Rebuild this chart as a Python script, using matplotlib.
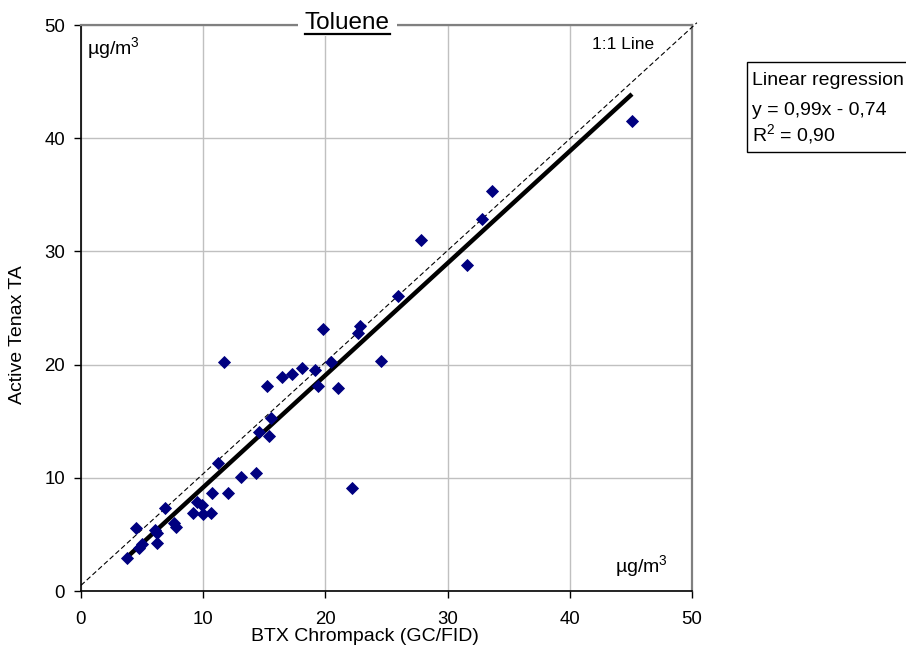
import numpy as np
import matplotlib
matplotlib.use("Agg")
import matplotlib.pyplot as plt
from matplotlib.lines import Line2D

plt.rcParams['font.family'] = ['Liberation Sans', 'DejaVu Sans']
plt.rcParams['mathtext.fontset'] = 'custom'
plt.rcParams['mathtext.rm'] = 'Liberation Sans'
plt.rcParams['mathtext.it'] = 'Liberation Sans'
plt.rcParams['mathtext.default'] = 'regular'

# Paired measurements (µg/m³)
btx_chrompack = [3.74, 4.50, 4.77, 5.02, 6.06, 6.24, 6.24, 6.90, 7.61, 7.77,
                 9.19, 9.47, 9.88, 9.96, 10.64, 10.70, 12.03, 11.24, 13.07, 14.30,
                 14.57, 15.36, 15.55, 11.73, 15.20, 16.42, 17.24, 18.06, 19.15, 19.42,
                 19.83, 20.43, 21.06, 22.64, 22.83, 24.55, 22.18, 25.97, 27.80, 31.56,
                 32.84, 33.66, 45.09]
active_tenax = [2.89, 5.54, 3.77, 4.15, 5.39, 5.10, 4.27, 7.31, 5.98, 5.63,
                6.92, 7.89, 7.60, 6.78, 6.92, 8.63, 8.68, 11.28, 10.10, 10.45,
                14.07, 13.72, 15.26, 20.26, 18.11, 18.93, 19.17, 19.73, 19.52, 18.11,
                23.12, 20.20, 17.91, 22.76, 23.41, 20.32, 9.07, 26.06, 31.01, 28.80,
                32.84, 35.34, 41.52]

reg_slope = 0.99
reg_intercept = -0.74
r_squared = 0.90

axis_ticks = [0, 10, 20, 30, 40, 50]

W, H = 906, 648
fig = plt.figure(figsize=(W / 100, H / 100), dpi=100)
fig.patch.set_facecolor('white')

def px(x, y):
    return x / W, 1 - y / H

left, right, top, bottom = 81, 692, 25, 591
ax = fig.add_axes([left / W, 1 - bottom / H, (right - left) / W, (bottom - top) / H])

ax.set_xlim(0, 50)
ax.set_ylim(0, 50)
ax.set_xticks(axis_ticks)
ax.set_yticks(axis_ticks)
ax.grid(True, color='#c0c0c0', lw=1.0)
ax.set_axisbelow(True)

for side in ('top', 'right'):
    ax.spines[side].set_color('#808080')
    ax.spines[side].set_linewidth(1.6)
for side in ('left', 'bottom'):
    ax.spines[side].set_color('black')
    ax.spines[side].set_linewidth(1.2)

ax.tick_params(axis='both', direction='out', length=5, width=1.0, labelsize=13.4, colors='black')
ax.tick_params(axis='x', pad=9.5)
ax.tick_params(axis='y', pad=6.5)

# 1:1 reference line
ax.plot([0, 50.4], [0.5, 50.2], color='black', lw=0.8, dashes=(4.5, 2.5), clip_on=False, zorder=3)

# Regression line across the data range
xr = np.array([min(btx_chrompack), max(btx_chrompack)])
ax.plot(xr, reg_slope * xr + reg_intercept, color='black', lw=3.2, solid_capstyle='butt', zorder=4)

# Measurements
ax.plot(btx_chrompack, active_tenax, linestyle='none', marker='D', ms=6.3,
        mfc='#000080', mec='#000080', mew=0.6, zorder=5)

# In-plot annotations
fig.text(*px(87, 54), r'µg/m$^3$', fontsize=14, ha='left', va='baseline')
fig.text(*px(592, 49), '1:1 Line', fontsize=12.5, ha='left', va='baseline')
fig.text(*px(615, 572), r'µg/m$^3$', fontsize=14, ha='left', va='baseline')

# Axis titles
fig.text(*px(365, 641), 'BTX Chrompack (GC/FID)', fontsize=14, ha='center', va='baseline')
fig.text(*px(18, 335), 'Active Tenax TA', fontsize=14, ha='center', va='center', rotation=90)

# Chart title sitting on the top frame, underlined
title = fig.text(*px(347, 29), 'Toluene', fontsize=17.5, ha='center', va='baseline', zorder=10)

# Regression summary box
fig.patches.append(plt.Rectangle(px(747, 152), (960 - 747) / W, (152 - 62) / H,
                                 transform=fig.transFigure, facecolor='white',
                                 edgecolor='black', lw=1.0, figure=fig))
fig.text(*px(752, 85), 'Linear regression', fontsize=14, ha='left', va='baseline')
sign = '-' if reg_intercept < 0 else '+'
fig.text(*px(752, 115), f'y = {reg_slope:.2f}x {sign} {abs(reg_intercept):.2f}'.replace('.', ','),
         fontsize=14, ha='left', va='baseline')
fig.text(*px(752, 141), f'R$^2$ = {r_squared:.2f}'.replace('.', ','), fontsize=14,
         ha='left', va='baseline')

fig.canvas.draw()
renderer = fig.canvas.get_renderer()
bb = title.get_window_extent(renderer)
# white gap in the frame behind the title
fig.patches.append(plt.Rectangle(((bb.x0 - 7) / W, (H - 36) / H), (bb.width + 14) / W, 20 / H,
                                 transform=fig.transFigure, facecolor='white',
                                 edgecolor='none', zorder=9, figure=fig))
uy = H - 33.5
fig.add_artist(Line2D([bb.x0 / W, bb.x1 / W], [uy / H, uy / H], transform=fig.transFigure,
                      color='black', lw=1.6, zorder=11))

fig.savefig('out.png', dpi=100)
